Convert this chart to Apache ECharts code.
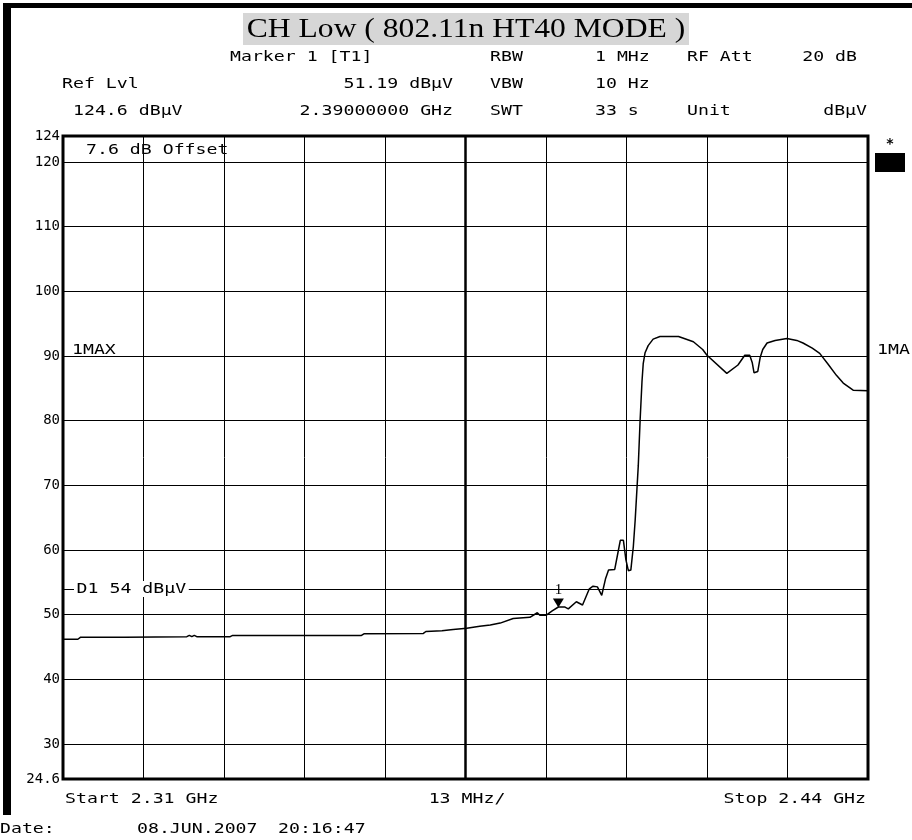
<!DOCTYPE html>
<html><head><meta charset="utf-8">
<script src="https://cdn.jsdelivr.net/npm/echarts@6/dist/echarts.min.js"></script>
<style>html,body{margin:0;padding:0;background:#fff}#c{width:912px;height:840px}</style>
</head><body><div id="c"></div>
<script>
// ---- data ----
const startMHz = 2310;
const stopMHz = 2440;
const spanPerDivMHz = 13;
const refMin = 24.6;
const refMax = 124;
const yTickLabels = [24.6, 30, 40, 50, 60, 70, 80, 90, 100, 110, 120, 124];
const yGridLevels = [30, 40, 50, 60, 70, 80, 90, 100, 110, 120];
const displayLineLevel = 54;
const markerFreqMHz = 2390;
const markerLevel = 51.19;

const freqMHz = [
  2310.0, 2312.4, 2312.8, 2320.0, 2330.0, 2330.4, 2330.8, 2331.2, 2331.6, 2337.0,
  2337.4, 2350.0, 2358.2, 2358.6, 2368.2, 2368.6, 2371.2, 2373.0, 2375.2, 2377.3,
  2379.0, 2380.6, 2382.7, 2385.4, 2386.6, 2387.0, 2388.0, 2389.0, 2390.0, 2391.0,
  2391.6, 2392.9, 2393.9, 2395.0, 2395.6, 2396.3, 2397.0, 2397.6, 2398.1, 2399.1,
  2399.6, 2400.0, 2400.5, 2400.9, 2401.3, 2401.7, 2402.1, 2402.4, 2402.9, 2403.2,
  2403.5, 2403.7, 2404.0, 2404.5, 2405.3, 2406.4, 2409.4, 2411.8, 2413.3, 2414.0,
  2417.2, 2419.0, 2420.1, 2420.9, 2421.3, 2421.6, 2422.2, 2422.6, 2423.0, 2423.7,
  2425.0, 2426.9, 2428.5, 2429.5, 2431.0, 2432.2, 2433.5, 2434.9, 2436.0, 2437.6,
  2440.0
];
const levelDbuV = [
  46.2, 46.2, 46.5, 46.5, 46.6, 46.8, 46.6, 46.8, 46.6, 46.6,
  46.8, 46.8, 46.8, 47.05, 47.1, 47.4, 47.5, 47.7, 47.9, 48.2,
  48.4, 48.7, 49.4, 49.6, 50.3, 49.9, 49.9, 50.6, 51.19, 51.2,
  50.9, 52.0, 51.5, 54.0, 54.4, 54.3, 53.0, 55.5, 56.9, 57.0,
  59.5, 61.5, 61.5, 58.5, 56.8, 56.9, 60.5, 64.6, 73.0, 80.1,
  86.0, 88.8, 90.5, 91.6, 92.6, 93.0, 93.0, 92.2, 91.0, 90.1,
  87.3, 88.6, 90.1, 90.1, 89.0, 87.4, 87.6, 89.8, 91.0, 92.0,
  92.4, 92.7, 92.4, 92.0, 91.2, 90.4, 88.8, 87.0, 85.8, 84.7,
  84.6
];

// header texts
const titleText = 'CH Low ( 802.11n HT40 MODE )';
const row1 = ['Marker 1 [T1]', 'RBW', '1 MHz', 'RF Att', '20 dB'];
const row2 = ['Ref Lvl', '51.19 dBμV', 'VBW', '10 Hz'];
const row3 = ['124.6 dBμV', '2.39000000 GHz', 'SWT', '33 s', 'Unit', 'dBμV'];
const footer = ['Start 2.31 GHz', '13 MHz/', 'Stop 2.44 GHz'];
const dateRow = ['Date:', '08.JUN.2007', '20:16:47'];
const offsetText = '7.6 dB Offset';
const traceLabelLeft = '1MAX';
const traceLabelRight = '1MA';
const displayLineText = 'D1 54 dBμV';

// ---- build ----
const MONO = '14px "DejaVu Sans Mono"';
const SX = 1.3;
function t(text, x, y, align, extra) {
  return {
    type: 'text', x: x, y: y, scaleX: SX, z: 100,
    style: Object.assign({ text: text, font: MONO, fill: '#000', align: align || 'left', verticalAlign: 'middle' }, extra || {})
  };
}

const seriesData = freqMHz.map((f, i) => [f - startMHz, levelDbuV[i]]);

const chart = echarts.init(document.getElementById('c'), null, { renderer: 'canvas' });
chart.setOption({
  animation: false,
  backgroundColor: '#fff',
  grid: { left: 63, top: 136, width: 805, height: 643, show: true, borderColor: '#000', borderWidth: 3, backgroundColor: '#fff' },
  xAxis: {
    type: 'value', min: 0, max: stopMHz - startMHz, interval: spanPerDivMHz,
    axisLine: { show: false }, axisTick: { show: false }, axisLabel: { show: false },
    splitLine: { show: true, lineStyle: { color: '#000', width: 1 } }
  },
  yAxis: {
    type: 'value', min: refMin, max: refMax,
    axisLine: { show: false }, axisTick: { show: false },
    splitLine: { show: false },
    axisLabel: {
      customValues: yTickLabels, color: '#000', margin: 3,
      fontFamily: 'DejaVu Sans Mono', fontSize: 14,
      formatter: v => String(Math.round(v * 10) / 10)
    }
  },
  series: [{
    type: 'line', data: seriesData, showSymbol: false, symbol: 'none',
    lineStyle: { color: '#000', width: 1.5 },
    z: 5,
    markLine: {
      silent: true, symbol: 'none', label: { show: false },
      lineStyle: { color: '#000', width: 1, type: 'solid' },
      emphasis: { disabled: true },
      data: yGridLevels.map(v => ({ yAxis: v }))
        .concat([{ yAxis: displayLineLevel }])
        .concat([{ xAxis: (stopMHz - startMHz) / 2, lineStyle: { width: 2.5, color: '#000' } }])
    },
    markPoint: {
      silent: true,
      data: [{ coord: [markerFreqMHz - startMHz, markerLevel] }],
      symbol: 'triangle', symbolRotate: 180, symbolSize: [11, 9], symbolOffset: [0, -4],
      itemStyle: { color: '#000' },
      label: { show: true, formatter: '1', position: 'top', distance: 1, color: '#000', fontFamily: 'Liberation Serif', fontSize: 15 }
    }
  }],
  graphic: [
    { type: 'rect', shape: { x: 3, y: 3, width: 909, height: 5 }, style: { fill: '#000' }, z: 100 },
    { type: 'rect', shape: { x: 3, y: 3, width: 8, height: 812 }, style: { fill: '#000' }, z: 100 },
    { type: 'rect', shape: { x: 243, y: 13, width: 446, height: 32 }, style: { fill: '#d6d6d6' }, z: 100 },
    { type: 'text', x: 466, y: 30, scaleX: 1.17, z: 101, style: { text: titleText, font: '27px "Liberation Serif"', fill: '#000', align: 'center', verticalAlign: 'middle' } },
    t(row1[0], 230, 57), t(row1[1], 490, 57), t(row1[2], 595, 57), t(row1[3], 687, 57), t(row1[4], 857, 57, 'right'),
    t(row2[0], 62, 84), t(row2[1], 453, 84, 'right'), t(row2[2], 490, 84), t(row2[3], 595, 84),
    t(row3[0], 73, 111), t(row3[1], 453, 111, 'right'), t(row3[2], 490, 111), t(row3[3], 595, 111), t(row3[4], 687, 111), t(row3[5], 867, 111, 'right'),
    t(offsetText, 86, 150),
    t(traceLabelLeft, 72, 350),
    t(traceLabelRight, 877, 350),
    t(displayLineText, 74, 589, 'left', { backgroundColor: '#fff', padding: [1, 2, 1, 2] }),
    { type: 'text', x: 890, y: 144, z: 100, style: { text: '*', font: 'bold 14px "DejaVu Sans Mono"', fill: '#000', align: 'center', verticalAlign: 'middle' } },
    { type: 'rect', shape: { x: 875, y: 153, width: 30, height: 19 }, style: { fill: '#000' }, z: 100 },
    t(footer[0], 65, 799), t(footer[1], 467, 799, 'center'), t(footer[2], 866, 799, 'right'),
    t(dateRow[0], 0, 829), t(dateRow[1], 137, 829), t(dateRow[2], 278, 829)
  ]
});
</script>
</body></html>
